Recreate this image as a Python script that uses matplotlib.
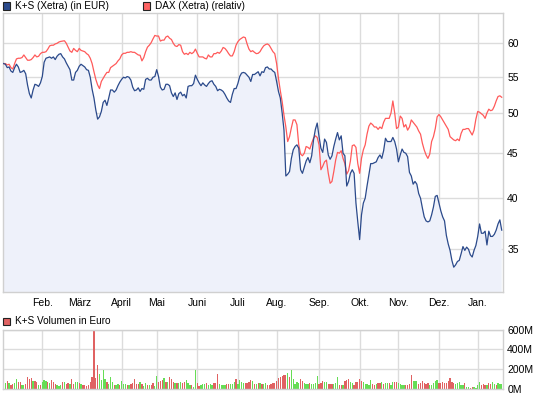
import numpy as np
import pandas as pd
import matplotlib
matplotlib.use('Agg')
import matplotlib.pyplot as plt
from matplotlib.patches import Rectangle
from matplotlib.ticker import NullLocator

plt.rcParams['font.family'] = ['Liberation Sans', 'DejaVu Sans']

# Xetra trading days, Jan 2011 - Jan 2012
days = pd.bdate_range('2011-01-03', '2012-01-19')
days = days.drop(pd.to_datetime(['2011-04-22', '2011-04-25', '2011-12-26']))

month_names = ['Feb.', 'März', 'April', 'Mai', 'Juni', 'Juli', 'Aug.', 'Sep.',
               'Okt.', 'Nov.', 'Dez.', 'Jan.']

# K+S close (EUR)
ks = [56.9, 56.8, 56.3, 56.4, 55.8, 55.6, 56.3, 56.8, 56.4, 55.6,
      55.7, 55.9, 55.4, 53.8, 52.6, 52.0, 53.1, 53.9, 53.8, 53.6,
      54.1, 55.0, 57.1, 57.7, 57.8, 57.9, 57.7, 57.9, 57.5, 58.0,
      58.3, 58.4, 57.9, 57.6, 57.0, 56.5, 56.0, 54.5, 54.5, 55.6,
      55.9, 56.5, 56.8, 56.6, 56.4, 56.0, 55.9, 54.9, 53.2, 52.0,
      50.4, 49.2, 49.5, 50.2, 51.4, 51.7, 51.0, 52.0, 53.1, 53.1,
      52.8, 53.1, 53.7, 54.2, 54.6, 54.9, 54.8, 55.0, 54.9, 54.5,
      53.5, 53.0, 53.1, 53.4, 52.9, 53.3, 53.2, 54.6, 54.75, 54.5,
      54.5, 54.9, 55.0, 56.0, 55.0, 53.5, 53.1, 53.2, 53.9, 53.9,
      53.7, 52.7, 52.2, 52.7, 51.8, 52.6, 52.8, 52.3, 52.5, 52.0,
      53.6, 53.7, 53.7, 54.0, 55.2, 54.6, 54.1, 53.7, 54.1, 53.8,
      53.6, 54.0, 54.3, 54.4, 53.9, 53.6, 53.0, 53.2, 53.1, 52.9,
      52.5, 52.0, 51.6, 51.4, 52.5, 53.3, 53.3, 54.0, 55.0, 55.5,
      55.6, 55.5, 55.2, 54.9, 54.3, 55.3, 55.3, 55.5, 55.7, 55.1,
      55.7, 55.6, 56.3, 56.4, 56.1, 56.1, 55.8, 55.6, 54.3, 52.9,
      52.0, 50.0, 47.8, 42.4, 42.6, 42.9, 44.4, 45.4, 45.8, 46.0,
      45.6, 43.1, 42.7, 43.4, 44.1, 44.5, 43.9, 44.7, 46.6, 47.9,
      48.7, 47.0, 45.6, 45.1, 46.7, 46.3, 44.8, 44.3, 44.7, 45.8,
      46.7, 47.5, 46.6, 47.1, 45.0, 44.7, 41.3, 41.8, 42.7, 43.1,
      42.7, 39.5, 37.6, 35.9, 38.3, 39.5, 40.0, 41.3, 42.5, 43.8,
      43.8, 43.9, 44.0, 44.5, 44.8, 44.4, 45.3, 46.8, 46.4, 46.4,
      46.4, 46.9, 46.4, 45.5, 44.0, 44.8, 45.5, 45.1, 45.0, 44.6,
      42.8, 42.4, 41.5, 41.8, 41.5, 40.5, 40.0, 39.0, 38.1, 37.7,
      37.6, 37.7, 38.3, 39.1, 40.2, 40.3, 39.5, 38.7, 38.1, 37.7,
      36.3, 35.5, 34.9, 34.0, 33.4, 33.6, 33.9, 34.0, 34.6, 35.25,
      34.9, 35.2, 35.0, 34.5, 34.3, 34.9, 35.35, 36.2, 37.4, 36.5,
      36.5, 36.7, 35.4, 36.7, 36.2, 36.2, 36.4, 36.8, 37.4, 37.8,
      36.8]

# DAX rebased to K+S start
dax = [56.9, 56.9, 56.7, 56.8, 56.3, 56.1, 56.9, 57.6, 57.7, 57.7,
       57.8, 58.2, 57.8, 57.4, 57.4, 57.5, 57.8, 58.2, 57.9, 58.0,
       58.4, 58.6, 58.6, 58.7, 59.1, 59.6, 59.7, 59.7, 59.9, 60.0,
       60.2, 60.3, 60.35, 60.4, 60.0, 59.4, 58.8, 58.6, 59.2, 58.9,
       58.7, 59.2, 58.9, 58.8, 58.7, 58.4, 58.2, 57.7, 56.9, 55.7,
       54.6, 53.8, 53.3, 54.3, 54.75, 55.2, 55.6, 55.6, 56.3, 56.5,
       56.7, 56.9, 57.3, 57.6, 58.2, 58.45, 58.45, 58.6, 58.6, 58.7,
       58.6, 58.6, 58.4, 58.2, 58.15, 57.3, 57.8, 58.7, 59.4, 59.7,
       60.1, 60.7, 61.25, 61.15, 61.15, 60.35, 60.5, 60.5, 61.0, 61.15,
       60.8, 60.6, 60.0, 59.6, 59.5, 59.8, 59.7, 58.7, 58.3, 58.45,
       58.25, 58.6, 58.4, 58.6, 59.1, 58.45, 57.9, 57.9, 57.9, 57.7,
       57.6, 58.2, 57.9, 57.9, 58.4, 58.4, 58.6, 58.45, 58.8, 59.35,
       59.2, 58.85, 58.4, 58.05, 58.05, 58.7, 59.7, 60.25, 60.6, 60.8,
       61.0, 60.9, 59.9, 59.1, 58.7, 58.85, 58.6, 58.4, 58.45, 58.7,
       59.2, 59.6, 59.8, 59.9, 59.7, 59.2, 58.7, 58.4, 56.9, 54.75,
       53.0, 51.5, 49.7, 48.2, 46.4, 47.0, 48.1, 49.1, 49.1, 48.5,
       46.0, 44.9, 44.7, 45.0, 45.8, 45.7, 45.5, 46.2, 46.8, 47.1,
       46.9, 46.0, 43.1, 43.5, 44.0, 44.2, 42.7, 41.6, 41.8, 42.9,
       44.2, 45.1, 45.0, 45.3, 44.4, 43.8, 42.6, 43.0, 44.1, 45.9,
       46.0, 45.7, 43.8, 42.7, 44.4, 45.4, 46.0, 47.3, 48.3, 48.7,
       48.5, 48.2, 48.2, 47.9, 48.2, 48.0, 48.8, 49.3, 49.3, 49.3,
       50.0, 51.6, 50.0, 48.0, 48.2, 49.6, 49.3, 48.2, 48.5, 47.8,
       48.2, 49.1, 48.8, 48.5, 48.2, 47.7, 47.3, 46.2, 45.4, 44.8,
       44.4, 44.9, 46.4, 47.0, 48.0, 49.5, 49.8, 49.5, 49.1, 48.7,
       48.3, 47.9, 47.0, 46.8, 46.6, 46.5, 46.7, 46.5, 47.4, 47.9,
       47.9, 48.0, 48.0, 47.6, 47.2, 47.8, 49.2, 50.2, 50.1, 49.9,
       49.7, 49.3, 50.0, 50.5, 50.3, 50.4, 50.9, 51.6, 52.2, 52.3,
       52.1]

# K+S turnover in million EUR, r = down day, g = up day
vol = [51, 57, 81, 57, 40, 51, 57, 101, 71, 71,
       40, 40, 47, 121, 101, 115, 81, 81, 67, 40,
       40, 67, 91, 81, 67, 64, 91, 67, 47, 40,
       34, 40, 74, 67, 54, 61, 51, 101, 54, 71,
       71, 57, 47, 40, 40, 30, 37, 71, 121, 598,
       111, 243, 152, 91, 192, 101, 74, 51, 121, 74,
       40, 40, 51, 44, 81, 51, 51, 44, 40, 54,
       61, 101, 51, 51, 67, 47, 34, 61, 37, 44,
       40, 61, 34, 135, 74, 81, 91, 111, 71, 71,
       121, 101, 74, 61, 61, 57, 71, 64, 71, 91,
       61, 40, 40, 20, 192, 61, 34, 40, 51, 47,
       57, 40, 47, 40, 61, 64, 152, 51, 40, 40,
       40, 47, 47, 51, 51, 71, 101, 51, 91, 71,
       61, 61, 61, 67, 91, 78, 47, 51, 61, 57,
       51, 51, 61, 40, 40, 51, 61, 61, 81, 111,
       121, 132, 142, 142, 162, 121, 192, 101, 51, 71,
       61, 101, 81, 61, 51, 51, 61, 51, 51, 61,
       132, 51, 61, 81, 71, 71, 51, 51, 51, 51,
       61, 121, 40, 40, 40, 81, 91, 101, 71, 61,
       40, 71, 71, 101, 81, 71, 51, 51, 40, 91,
       51, 37, 51, 57, 64, 67, 54, 57, 64, 61,
       37, 74, 71, 71, 61, 51, 40, 40, 40, 40,
       51, 142, 81, 81, 81, 51, 61, 81, 61, 51,
       61, 40, 40, 61, 81, 91, 61, 61, 71, 61,
       61, 81, 111, 71, 61, 51, 61, 71, 40, 40,
       61, 20, 20, 10, 20, 20, 10, 40, 71, 40,
       51, 40, 40, 61, 51, 71, 51, 44, 57, 51, 47]
vol_dir = ("ggrgrrggrr" "ggrrrrgrrg" "rgggrgrrrg" "ggrgrrgrrg" "grgrrrrrrr"
           "rrggggrggg" "rggrgggrgr" "rrrrgrggrg" "rrggrrrgrg" "rrrgrggrrg"
           "ggrggrrggg" "rgggrrrggg" "grrgggrggg" "grrrrgrgrg" "rggrrrrrrr"
           "rrrrgrgggg" "grrgggrggg" "grrrggrrrg" "ggrrgrrrgg" "rrrrrggggg"
           "rrgrrgrggr" "ggrrggggrr" "rrgggrrrrr" "rgggggrrrr" "rrrrrggggg"
           "rggrrggggr" "rrgrrggrggg")

x = np.arange(len(days))
month_pos = [i for i in range(1, len(days)) if days[i].month != days[i - 1].month]

W, H = 545, 398
fig = plt.figure(figsize=(W / 100, H / 100), dpi=100)
grid_c = '#dcdcdc'

def style(ax):
    for s in ax.spines.values():
        s.set_color('#d0d0d0')
        s.set_linewidth(1)
    ax.grid(True, color=grid_c, lw=1)
    ax.set_axisbelow(True)
    ax.yaxis.tick_right()
    ax.tick_params(length=0, labelsize=7.5, pad=3)
    ax.set_xlim(-0.3, 270.7)
    ax.set_xticks(month_pos)

# price panel
ax = fig.add_axes([3 / W, 1 - 292 / H, 500 / W, (292 - 13.3) / H])
ax.set_yscale('log')
ax.fill_between(x, ks, 20, color='#eef1fa', lw=0, zorder=1)
ax.plot(x, dax, color='#ff5a5a', lw=0.9, zorder=3)
ax.plot(x, ks, color='#2b4a8b', lw=0.9, zorder=4)
ax.set_ylim(31.3, 64.9)
style(ax)
ax.yaxis.set_minor_locator(NullLocator())
ax.set_yticks([35, 40, 45, 50, 55, 60])
ax.set_yticklabels(['35', '40', '45', '50', '55', '60'])
ax.set_xticklabels(month_names)
ax.tick_params(axis='x', pad=4)

# volume panel
axv = fig.add_axes([3 / W, 1 - 389 / H, 500 / W, (389 - 329.7) / H])
cols = ['#e06262' if c == 'r' else '#66dd55' for c in vol_dir]
axv.bar(x, vol, width=0.7, color=cols, lw=0, zorder=2)
axv.set_ylim(0, 600)
style(axv)
axv.set_yticks([0, 200, 400, 600])
axv.set_yticklabels(['0M', '200M', '400M', '600M'])
axv.set_xticklabels([])

# legends
def legend_box(px, py, color, label):
    fig.patches.append(Rectangle((px / W, 1 - (py + 7) / H), 7 / W, 7 / H,
                                 transform=fig.transFigure, facecolor=color,
                                 edgecolor='#222222', lw=0.8))
    fig.text((px + 12) / W, 1 - (py + 3.5) / H, label, fontsize=7.2, va='center')

legend_box(3, 2.5, '#2b4a8b', 'K+S (Xetra) (in EUR)')
legend_box(143, 2.5, '#ff6464', 'DAX (Xetra) (relativ)')
legend_box(3, 318, '#e06262', 'K+S Volumen in Euro')

fig.savefig('out.png', dpi=100)
